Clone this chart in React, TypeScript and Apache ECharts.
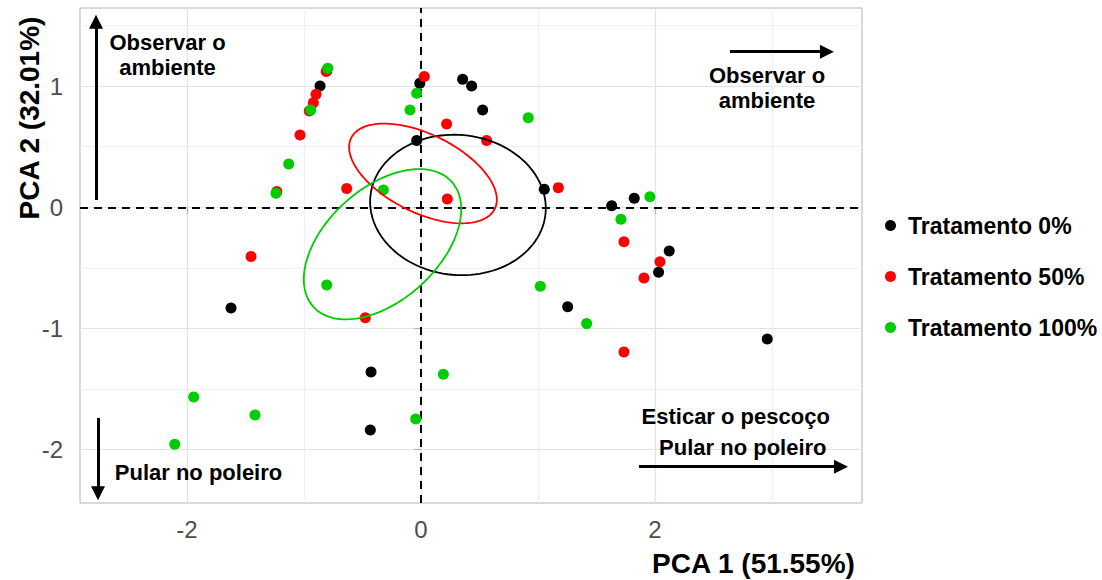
import React, { useEffect, useRef } from "react";
import * as echarts from "echarts";

const groups = ["Tratamento 0%", "Tratamento 50%", "Tratamento 100%"];
const groupColors = ["#000000", "#ff0000", "#00cd00"];

const pts0: [number, number][] = [
  [-1.624, -0.832], [-0.863, 1.0], [-0.806, 1.127], [-0.01, 1.023], [-0.037, 0.55],
  [0.356, 1.056], [0.433, 1.0], [0.527, 0.803], [1.054, 0.149], [1.63, 0.013],
  [1.823, 0.074], [2.122, -0.361], [2.031, -0.536], [1.254, -0.82], [2.96, -1.087],
  [-0.427, -1.359], [-0.433, -1.837],
];
const pts50: [number, number][] = [
  [-1.453, -0.407], [-1.233, 0.129], [-1.034, 0.597], [-0.955, 0.795], [-0.92, 0.863],
  [-0.897, 0.932], [-0.81, 1.12], [0.028, 1.078], [-0.635, 0.154], [0.219, 0.687],
  [0.561, 0.55], [0.225, 0.068], [1.174, 0.162], [1.735, -0.284], [2.043, -0.449],
  [1.906, -0.583], [1.735, -1.194], [-0.476, -0.911],
];
const pts100: [number, number][] = [
  [-2.105, -1.956], [-1.943, -1.565], [-1.419, -1.714], [-0.806, -0.641], [0.191, -1.378],
  [-0.045, -1.747], [-1.24, 0.115], [-1.131, 0.357], [-0.943, 0.803], [-0.797, 1.147],
  [-0.094, 0.803], [-0.037, 0.941], [-0.322, 0.143], [0.917, 0.739], [1.709, -0.099],
  [1.957, 0.087], [1.02, -0.652], [1.416, -0.96],
];
const groupPoints = [pts0, pts50, pts100];

// ellipse parameters: centre, semi-axes, rotation (deg)
const ell0 = { cx: 0.316, cy: 0.019, rx: 0.752, ry: 0.578, angle: -5 };
const ell50 = { cx: 0.017, cy: 0.279, rx: 0.68, ry: 0.325, angle: -25 };
const ell100 = { cx: -0.329, cy: -0.305, rx: 0.785, ry: 0.47, angle: 40 };
const groupEllipses = [ell0, ell50, ell100];

const xRange = [-2.915, 3.77];
const yRange = [-2.44, 1.644];
const xMajor = [-2, 0, 2];
const xMinor = [-1, 1, 3];
const yMajor = [-2, -1, 0, 1];
const yMinor = [-1.5, -0.5, 0.5, 1.5];

// annotation arrows: [x1, y1, x2, y2]
const arrows: [number, number, number, number][] = [
  [-2.778, 0.06, -2.778, 1.53],
  [-2.761, -1.738, -2.761, -2.36],
  [2.641, 1.284, 3.47, 1.284],
  [1.863, -2.14, 3.59, -2.14],
];

const FONT = "'Liberation Sans', Arial, sans-serif";

function ellipsePoints(e: { cx: number; cy: number; rx: number; ry: number; angle: number }) {
  const out: [number, number][] = [];
  const th = (e.angle * Math.PI) / 180;
  const n = 120;
  for (let i = 0; i <= n; i++) {
    const t = (i / n) * Math.PI * 2;
    const ux = e.rx * Math.cos(t);
    const uy = e.ry * Math.sin(t);
    out.push([e.cx + ux * Math.cos(th) - uy * Math.sin(th), e.cy + ux * Math.sin(th) + uy * Math.cos(th)]);
  }
  return out;
}

export default function App() {
  const ref = useRef<HTMLDivElement>(null);
  useEffect(() => {
    if (!ref.current) return;
    const chart = echarts.init(ref.current, undefined, { renderer: "svg" });
    const gridLine = { show: true, lineStyle: { color: "#e3e3e3", width: 1.2 } };
    const minorLine = { show: true, lineStyle: { color: "#f0f0f0", width: 1 } };
    const hidden = { axisLine: { show: false }, axisLabel: { show: false } };
    const series: any[] = [];
    series.push({
      type: "line",
      data: [],
      z: 3,
      silent: true,
      markLine: {
        silent: true,
        symbol: ["none", "none"],
        label: { show: false },
        lineStyle: { color: "#000", width: 2, type: [8, 6] },
        data: [{ xAxis: 0 }, { yAxis: 0 }],
        animation: false,
      },
    });
    series.push({
      type: "line",
      data: [],
      z: 4,
      silent: true,
      markLine: {
        silent: true,
        symbol: ["none", "triangle"],
        symbolSize: 14,
        label: { show: false },
        lineStyle: { color: "#000", width: 3, type: "solid" },
        data: arrows.map((a) => [{ coord: [a[0], a[1]] }, { coord: [a[2], a[3]] }]),
        animation: false,
      },
    });
    groups.forEach((g, i) => {
      series.push({
        name: g,
        type: "scatter",
        data: groupPoints[i],
        symbolSize: 11,
        itemStyle: { color: groupColors[i], opacity: 1 },
        z: 5,
      });
    });
    groups.forEach((g, i) => {
      series.push({
        name: "ellipse " + g,
        type: "line",
        data: ellipsePoints(groupEllipses[i]),
        showSymbol: false,
        symbol: "none",
        lineStyle: { color: groupColors[i], width: 1.8 },
        z: 6,
        silent: true,
      });
    });

    const txt = (x: number, y: number, text: string, size: number, extra: any = {}) => ({
      type: "text",
      x,
      y,
      z: 100,
      zlevel: 1,
      ...extra,
      style: { text, fill: "#000", font: `bold ${size}px ${FONT}`, lineHeight: 25, textAlign: "center", textVerticalAlign: "middle" },
    });

    chart.setOption({
      animation: false,
      grid: { left: 80, top: 8, width: 782, height: 495, show: true, borderColor: "#b3b3b3", borderWidth: 1, backgroundColor: "#fff" },
      xAxis: [
        {
          type: "value",
          min: xRange[0],
          max: xRange[1],
          axisLine: { show: false },
          axisTick: { show: true, length: 7, customValues: xMajor, lineStyle: { color: "#b3b3b3", width: 1.2 } },
          axisLabel: { customValues: xMajor, fontSize: 24, color: "#4d4d4d", margin: 14, fontFamily: FONT },
          splitLine: gridLine,
        },
        {
          type: "value",
          position: "top",
          min: xRange[0],
          max: xRange[1],
          ...hidden,
          axisTick: { show: false, customValues: xMinor },
          splitLine: minorLine,
        },
      ],
      yAxis: [
        {
          type: "value",
          min: yRange[0],
          max: yRange[1],
          axisLine: { show: false },
          axisTick: { show: true, length: 7, customValues: yMajor, lineStyle: { color: "#b3b3b3", width: 1.2 } },
          axisLabel: { customValues: yMajor, fontSize: 24, color: "#4d4d4d", margin: 17, fontFamily: FONT },
          splitLine: gridLine,
        },
        {
          type: "value",
          position: "right",
          min: yRange[0],
          max: yRange[1],
          ...hidden,
          axisTick: { show: false, customValues: yMinor },
          splitLine: minorLine,
        },
      ],
      legend: {
        data: groups,
        orient: "vertical",
        left: 880,
        top: 209,
        icon: "circle",
        itemWidth: 25,
        itemHeight: 11,
        itemGap: 28,
        selectedMode: false,
        textStyle: { fontSize: 23, fontWeight: "bold", color: "#000", fontFamily: FONT, lineHeight: 23 },
      },
      graphic: [
        txt(167.5, 54.5, "Observar o\nambiente", 22),
        txt(767, 88.3, "Observar o\nambiente", 22),
        txt(198.5, 472.7, "Pular no poleiro", 22),
        txt(735.7, 416, "Esticar o pescoço", 22),
        txt(742.8, 447.7, "Pular no poleiro", 22),
        txt(753.5, 563, "PCA 1 (51.55%)", 28),
        txt(29, 118, "PCA 2 (32.01%)", 28, { rotation: Math.PI / 2 }),
      ],
      series,
    });
    return () => chart.dispose();
  }, []);
  return <div ref={ref} style={{ width: 1102, height: 580, position: "absolute", left: 0, top: 0, background: "#fff" }} />;
}
